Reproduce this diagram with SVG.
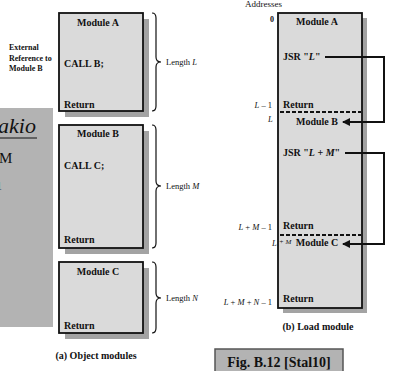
<svg xmlns="http://www.w3.org/2000/svg" width="396" height="371" viewBox="0 0 396 371">
<defs>
<style>
.box{fill:#dadada;stroke:#111;stroke-width:1.8}
.sh{fill:#a3a3a3}
.t{font-family:"Liberation Serif",serif;font-weight:bold;font-size:10px;fill:#111}
.s{font-family:"Liberation Serif",serif;font-size:8.5px;fill:#111}
.i{font-style:italic}
.br{fill:none;stroke:#111;stroke-width:1.2}
.ln{fill:none;stroke:#111;stroke-width:2}
.ds{fill:none;stroke:#111;stroke-width:2;stroke-dasharray:4 2}
</style>
<marker id="ah" markerWidth="8" markerHeight="8" refX="7" refY="4" orient="auto" markerUnits="userSpaceOnUse">
<path d="M0,0 L8,4 L0,8 Z" fill="#111"/>
</marker>
</defs>
<rect width="396" height="371" fill="#fff"/>

<g id="overlay">
<rect x="0" y="108" width="53" height="219" fill="#b3b3b3"/>
<text x="-2" y="133" font-family="Liberation Serif,serif" font-style="italic" font-size="22" fill="#111">akio</text>
<line x1="0" y1="138" x2="37" y2="138" stroke="#111" stroke-width="1"/>
<text x="-1" y="163" font-family="Liberation Serif,serif" font-size="15" fill="#111">M</text>
<text x="-4" y="190" font-family="Liberation Serif,serif" font-size="12" fill="#111">1</text>
</g>

<g id="external-ref">
<text class="t" font-size="8" x="9" y="50" style="font-size:8px">External</text>
<text class="t" x="9" y="60.5" style="font-size:8px">Reference to</text>
<text class="t" x="9" y="71" style="font-size:8px">Module B</text>
</g>

<g id="moduleA">
<rect class="sh" x="65" y="19" width="84" height="98"/>
<rect class="box" x="59" y="13" width="84" height="98"/>
<text class="t" x="98" y="26" text-anchor="middle">Module A</text>
<text class="t" x="64" y="67">CALL B;</text>
<text class="t" x="64" y="108">Return</text>
</g>
<g id="moduleB">
<rect class="sh" x="65" y="131" width="84" height="123"/>
<rect class="box" x="59" y="125" width="84" height="123"/>
<text class="t" x="98" y="137" text-anchor="middle">Module B</text>
<text class="t" x="64" y="169">CALL C;</text>
<text class="t" x="64" y="243">Return</text>
</g>
<g id="moduleC">
<rect class="sh" x="65" y="268" width="84" height="71"/>
<rect class="box" x="59" y="262" width="84" height="71"/>
<text class="t" x="98" y="275" text-anchor="middle">Module C</text>
<text class="t" x="64" y="329">Return</text>
</g>

<g id="braces">
<path class="br" d="M152,13 Q156,13 156,18 V57 Q156,62 161,62 Q156,62 156,67 V106 Q156,111 152,111"/>
<path class="br" d="M152,125 Q156,125 156,130 V181 Q156,186 161,186 Q156,186 156,191 V243 Q156,248 152,248"/>
<path class="br" d="M152,262 Q156,262 156,267 V293 Q156,298 161,298 Q156,298 156,303 V328 Q156,333 152,333"/>
<text class="s" x="166" y="65">Length <tspan class="i">L</tspan></text>
<text class="s" x="166" y="189">Length <tspan class="i">M</tspan></text>
<text class="s" x="166" y="301">Length <tspan class="i">N</tspan></text>
</g>
<text class="t" x="96" y="359" text-anchor="middle">(a) Object modules</text>

<g id="loadModule">
<rect class="sh" x="283" y="18" width="84" height="295"/>
<rect class="box" x="278" y="13" width="84" height="295"/>
<text class="s" x="245" y="7" style="font-size:9px">Addresses</text>
<text class="t" x="270" y="22" style="font-size:8px">0</text>
<text class="t" x="317" y="25" text-anchor="middle">Module A</text>
<text class="t" x="283" y="60">JSR "<tspan class="i">L</tspan>"</text>
<text class="s" x="272" y="108" text-anchor="end"><tspan class="i">L</tspan> – 1</text>
<text class="t" x="283" y="108">Return</text>
<text class="s i" x="268" y="122">L</text>
<text class="t" x="317" y="125" text-anchor="middle">Module B</text>
<text class="t" x="283" y="156">JSR "<tspan class="i">L</tspan> + <tspan class="i">M</tspan>"</text>
<text class="s" x="272" y="230" text-anchor="end"><tspan class="i">L</tspan> + <tspan class="i">M</tspan> – 1</text>
<text class="t" x="283" y="229">Return</text>
<text class="s i" x="272" y="246">L</text>
<text class="s i" x="279" y="244" style="font-size:7px">+ M</text>
<text class="t" x="317" y="246" text-anchor="middle">Module C</text>
<text class="s" x="272" y="305" text-anchor="end"><tspan class="i">L</tspan> + <tspan class="i">M</tspan> + <tspan class="i">N</tspan> – 1</text>
<text class="t" x="283" y="302">Return</text>
</g>

<g id="connectors">
<line class="ds" x1="280" y1="112" x2="361" y2="112"/>
<line class="ds" x1="280" y1="235" x2="361" y2="235"/>
<path class="ln" d="M325,57 H384 V122 H343" marker-end="url(#ah)"/>
<path class="ln" d="M345,153 H384 V244 H343" marker-end="url(#ah)"/>
</g>

<text class="t" x="318" y="330" text-anchor="middle">(b) Load module</text>

<g id="figLabel">
<rect x="215" y="349" width="128" height="24" fill="#b3b3b3" stroke="#555" stroke-width="1.5"/>
<text class="t" x="279" y="367" text-anchor="middle" style="font-size:14px">Fig. B.12 [Stal10]</text>
</g>
</svg>
